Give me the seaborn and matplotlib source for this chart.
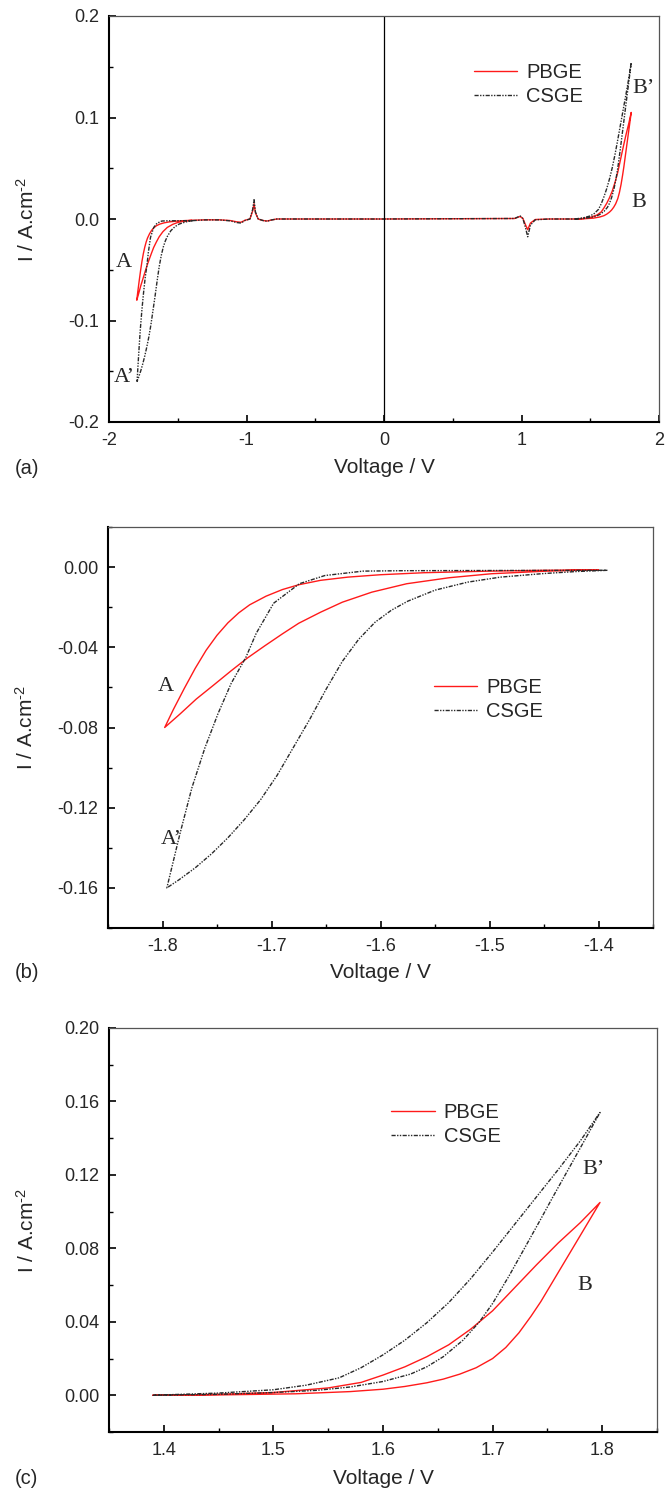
import numpy as np
import pandas as pd
import matplotlib
matplotlib.use("Agg")
import matplotlib.pyplot as plt
from matplotlib.ticker import FixedLocator, FormatStrFormatter, AutoMinorLocator
import seaborn as sns

# ---------------- data ----------------
# Cathodic loop (-1.4 V -> -1.8 V -> -1.4 V)
pbge_cath_V = [-1.400, -1.447, -1.498, -1.537, -1.576, -1.608, -1.635, -1.655, -1.675, -1.690,
               -1.706, -1.722, -1.737, -1.753, -1.769, -1.784, -1.798,
               -1.790, -1.780, -1.770, -1.760, -1.750, -1.740, -1.730, -1.720, -1.705,
               -1.690, -1.675, -1.655, -1.630, -1.600, -1.560, -1.500, -1.450, -1.400]
pbge_cath_I = [-0.0013, -0.0020, -0.0033, -0.0053, -0.0083, -0.0125, -0.0175, -0.0225, -0.0280, -0.0333,
               -0.0392, -0.0453, -0.0517, -0.0588, -0.0658, -0.0733, -0.0800,
               -0.0710, -0.0605, -0.0505, -0.0415, -0.0340, -0.0278, -0.0228, -0.0188, -0.0145,
               -0.0112, -0.0088, -0.0066, -0.0050, -0.0038, -0.0028, -0.0020, -0.0016, -0.0013]

csge_cath_V = [-1.392, -1.420, -1.450, -1.490, -1.520, -1.550, -1.575, -1.590, -1.605, -1.620,
               -1.635, -1.650, -1.665, -1.680, -1.695, -1.710, -1.725, -1.740, -1.755, -1.770,
               -1.785, -1.796,
               -1.784, -1.773, -1.761, -1.749, -1.737, -1.7235, -1.714, -1.698, -1.6745,
               -1.651, -1.616, -1.580, -1.500, -1.392]
csge_cath_I = [-0.0016, -0.0022, -0.0032, -0.0050, -0.0075, -0.0115, -0.0170, -0.0215, -0.0275, -0.0360,
               -0.0470, -0.0610, -0.0760, -0.0900, -0.1040, -0.1160, -0.1260, -0.1350, -0.1430, -0.1500,
               -0.1560, -0.1600,
               -0.1330, -0.1100, -0.0900, -0.0730, -0.0580, -0.0450, -0.0330, -0.0180, -0.0083,
               -0.0042, -0.0020, -0.0018, -0.0017, -0.0016]

# Anodic loop (1.39 V -> 1.8 V -> 1.39 V)
pbge_anod_V = [1.39, 1.45, 1.50, 1.55, 1.58, 1.60, 1.62, 1.64, 1.66, 1.68, 1.70, 1.72, 1.74,
               1.76, 1.78, 1.798,
               1.786, 1.771, 1.755, 1.744, 1.735, 1.724, 1.712, 1.700, 1.685, 1.670, 1.655,
               1.640, 1.620, 1.600, 1.570, 1.520, 1.450, 1.39]
pbge_anod_I = [0.0000, 0.0005, 0.0015, 0.0040, 0.0070, 0.0110, 0.0155, 0.0210, 0.0275, 0.0360,
               0.0460, 0.0585, 0.0710, 0.0830, 0.0940, 0.1050,
               0.0930, 0.0780, 0.0620, 0.0510, 0.0430, 0.0340, 0.0260, 0.0200, 0.0150, 0.0115,
               0.0088, 0.0068, 0.0048, 0.0033, 0.0020, 0.0008, 0.0002, 0.0000]

csge_anod_V = [1.39, 1.45, 1.50, 1.53, 1.56, 1.58, 1.60, 1.62, 1.64, 1.66, 1.68, 1.70, 1.72,
               1.74, 1.76, 1.78, 1.798,
               1.785, 1.770, 1.755, 1.744, 1.730, 1.715, 1.700, 1.688, 1.673, 1.655, 1.640,
               1.625, 1.600, 1.570, 1.540, 1.500, 1.450, 1.39]
csge_anod_I = [0.0000, 0.0012, 0.0030, 0.0055, 0.0095, 0.0150, 0.0220, 0.0300, 0.0395, 0.0505,
               0.0635, 0.0780, 0.0930, 0.1080, 0.1230, 0.1385, 0.1540,
               0.1400, 0.1240, 0.1080, 0.0960, 0.0810, 0.0650, 0.0500, 0.0400, 0.0300, 0.0210,
               0.0155, 0.0115, 0.0075, 0.0045, 0.0027, 0.0015, 0.0005, 0.0000]

# Middle region (-1.4 V .. 1.39 V), only in the full view
pbge_mid_V = [-1.40, -1.30, -1.20, -1.12, -1.07, -1.04, -1.01, -0.975, -0.955, -0.945, -0.935,
              -0.915, -0.88, -0.85, -0.82, -0.78, 0.0, 0.95, 0.99, 1.01, 1.03, 1.045, 1.065,
              1.10, 1.20, 1.39]
pbge_mid_I = [-0.0013, -0.0008, -0.0008, -0.0015, -0.0028, -0.0032, -0.0012, 0.0, 0.0080,
              0.0150, 0.0060, 0.0, -0.0015, -0.0020, -0.0010, 0.0, 0.0, 0.0005, 0.0025, 0.0005,
              -0.0060, -0.0105, -0.0040, -0.0005, 0.0, 0.0]
csge_mid_V = [-1.392, -1.30, -1.20, -1.12, -1.07, -1.04, -1.01, -0.975, -0.955, -0.945, -0.935,
              -0.915, -0.88, -0.85, -0.82, -0.78, 0.0, 0.95, 0.99, 1.01, 1.03, 1.045, 1.065,
              1.10, 1.20, 1.39]
csge_mid_I = [-0.0016, -0.0009, -0.0009, -0.0018, -0.0035, -0.0040, -0.0014, 0.0, 0.0095,
              0.0190, 0.0070, 0.0, -0.0015, -0.0022, -0.0010, 0.0, 0.0, 0.0005, 0.0030, 0.0005,
              -0.0090, -0.0175, -0.0060, -0.0008, 0.0, 0.0]

electrolytes = ["PBGE", "CSGE"]
colors = {"PBGE": "#ff1a1a", "CSGE": "#2a2a2a"}
dash = {"PBGE": "", "CSGE": (3, 1, 1, 1, 1, 1)}


def frame(parts):
    rows = []
    for name, seg, V, I in parts:
        rows.append(pd.DataFrame({"V": V, "I": I, "electrolyte": name, "segment": f"{name}_{seg}"}))
    return pd.concat(rows, ignore_index=True)


cath = [("PBGE", "cath", pbge_cath_V, pbge_cath_I), ("CSGE", "cath", csge_cath_V, csge_cath_I)]
anod = [("PBGE", "anod", pbge_anod_V, pbge_anod_I), ("CSGE", "anod", csge_anod_V, csge_anod_I)]
mid = [("PBGE", "mid", pbge_mid_V, pbge_mid_I), ("CSGE", "mid", csge_mid_V, csge_mid_I)]

df_a = frame(cath + mid + anod)
df_b = frame(cath)
df_c = frame(anod)

# ---------------- style ----------------
sns.set_style("ticks")
plt.rcParams["font.family"] = ["Liberation Sans", "DejaVu Sans"]
plt.rcParams["axes.unicode_minus"] = False
plt.rcParams["mathtext.fontset"] = "custom"
plt.rcParams["mathtext.rm"] = "Liberation Sans"
plt.rcParams["mathtext.it"] = "Liberation Sans"
plt.rcParams["mathtext.default"] = "regular"

fig = plt.figure(figsize=(6.72, 14.9), dpi=100)
W, H = 672.0, 1490.0


def make_ax(l, r, t, b):
    return fig.add_axes([l / W, 1 - b / H, (r - l) / W, (b - t) / H])


ax_a = make_ax(109, 659, 16, 422)
ax_b = make_ax(108, 653, 527, 928)
ax_c = make_ax(109, 657, 1028, 1432)


def draw(ax, df):
    sns.lineplot(data=df, x="V", y="I", hue="electrolyte", style="electrolyte",
                 units="segment", estimator=None, sort=False,
                 hue_order=electrolytes, style_order=electrolytes,
                 palette=colors, dashes=dash, linewidth=1.0, ax=ax)


def style_ax(ax, xlim, ylim, xt, yt, xfmt, yfmt, legend_xy, tag, tag_y, xlab_y):
    ax.set_xlim(*xlim)
    ax.set_ylim(*ylim)
    ax.xaxis.set_major_locator(FixedLocator(xt))
    ax.yaxis.set_major_locator(FixedLocator(yt))
    ax.xaxis.set_major_formatter(FormatStrFormatter(xfmt))
    ax.yaxis.set_major_formatter(FormatStrFormatter(yfmt))
    ax.xaxis.set_minor_locator(AutoMinorLocator(2))
    ax.yaxis.set_minor_locator(AutoMinorLocator(2))
    ax.tick_params(which="both", direction="in", top=False, right=False,
                   color="black", labelsize=13, pad=7)
    ax.tick_params(which="major", length=5, width=1.2)
    ax.tick_params(which="minor", length=3.2, width=1.0)
    for s in ("left", "bottom"):
        ax.spines[s].set_linewidth(1.5)
        ax.spines[s].set_color("black")
    for s in ("top", "right"):
        ax.spines[s].set_linewidth(0.9)
        ax.spines[s].set_color("#555555")
    ax.set_xlabel("Voltage / V", fontsize=15)
    ax.set_ylabel("I / A.cm$^{\\text{-2}}$", fontsize=15)
    ax.xaxis.label.set_va("center")
    ax.yaxis.label.set_va("center")
    ax.xaxis.set_label_coords(0.5, xlab_y)
    ax.yaxis.set_label_coords(-0.150, 0.5)
    sns.move_legend(ax, "center left", bbox_to_anchor=legend_xy, title="",
                    frameon=False, fontsize=14.5, handlelength=2.15,
                    handletextpad=0.45, labelspacing=0.25, borderpad=0,
                    borderaxespad=0)
    fig.text(15 / W, 1 - tag_y / H, tag, fontsize=14.5, ha="left", va="center")


serif = dict(family=["Liberation Serif", "DejaVu Serif"], fontsize=16, ha="center", va="center")

# (a) full view
draw(ax_a, df_a)
ax_a.axvline(0, color="black", lw=0.9)
style_ax(ax_a, (-2, 2), (-0.2, 0.2), [-2, -1, 0, 1, 2], [-0.2, -0.1, 0.0, 0.1, 0.2],
         "%g", "%.1f", (0.663, 0.831), "(a)", 468, -0.113)
ax_a.text(-1.895, -0.043, "A", **serif)
ax_a.text(-1.89, -0.156, "A\u2019", **serif)
ax_a.text(1.885, 0.129, "B\u2019", **serif)
ax_a.text(1.853, 0.016, "B", **serif)

# (b) cathodic zoom
draw(ax_b, df_b)
style_ax(ax_b, (-1.85, -1.35), (-0.18, 0.02), [-1.8, -1.7, -1.6, -1.5, -1.4],
         [-0.16, -0.12, -0.08, -0.04, 0.0], "%.1f", "%.2f", (0.598, 0.569), "(b)", 973, -0.112)
ax_b.text(-1.797, -0.0597, "A", **serif)
ax_b.text(-1.792, -0.136, "A\u2019", **serif)

# (c) anodic zoom
draw(ax_c, df_c)
style_ax(ax_c, (1.35, 1.85), (-0.02, 0.20), [1.4, 1.5, 1.6, 1.7, 1.8],
         [0.0, 0.04, 0.08, 0.12, 0.16, 0.20], "%.1f", "%.2f", (0.515, 0.760), "(c)", 1478, -0.114)
ax_c.text(1.792, 0.123, "B\u2019", **serif)
ax_c.text(1.784, 0.060, "B", **serif)

fig.savefig("out.png", dpi=100)
